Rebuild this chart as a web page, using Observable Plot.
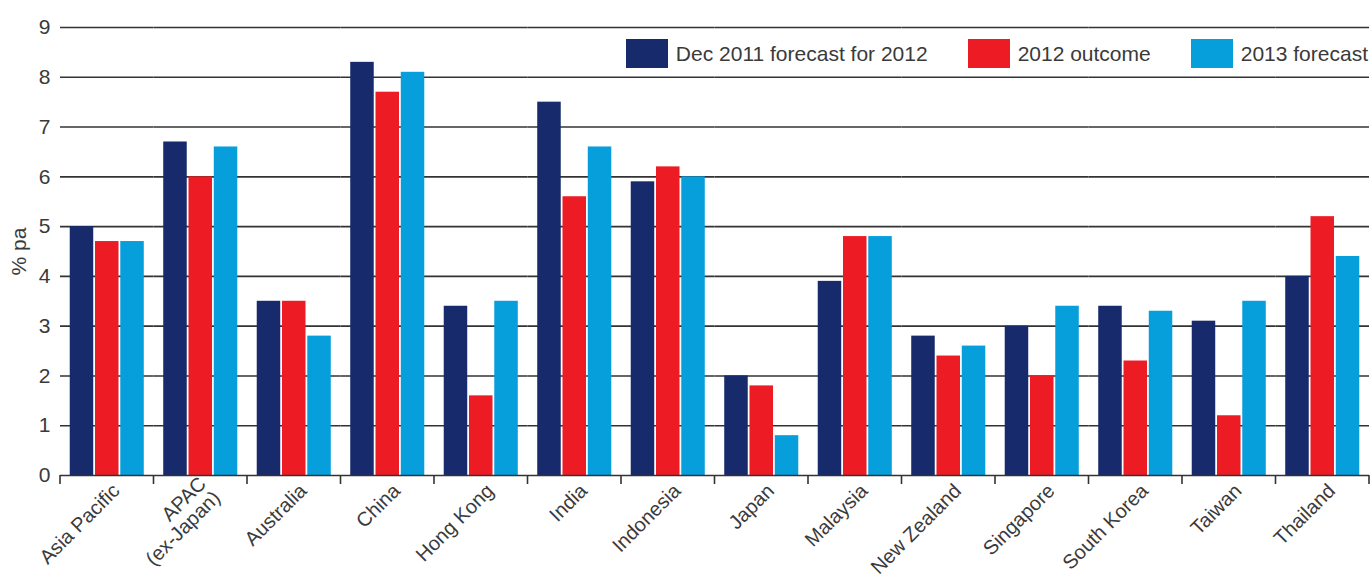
<!DOCTYPE html>
<html>
<head>
<meta charset="utf-8">
<script src="https://cdn.jsdelivr.net/npm/d3@7"></script>
<script src="https://cdn.jsdelivr.net/npm/@observablehq/plot@0.6"></script>
<style>
  html, body { margin: 0; padding: 0; background: #fff; }
  #wrap { position: relative; width: 1372px; height: 582px; font-family: "Liberation Sans", Arial, sans-serif; }
  #legend { position: absolute; top: 39px; right: 4px; display: flex; align-items: center; font-size: 21px; color: #3a3a3a; }
  #legend .item { display: flex; align-items: center; margin-left: 40px; }
  #legend .item:first-child { margin-left: 0; }
  #legend .sw { width: 42px; height: 29px; margin-right: 8px; }
</style>
</head>
<body>
<div id="wrap"><div id="legend"></div></div>
<script>
const countries = ["Asia Pacific", "APAC (ex-Japan)", "Australia", "China", "Hong Kong", "India", "Indonesia", "Japan", "Malaysia", "New Zealand", "Singapore", "South Korea", "Taiwan", "Thailand"];
const countryLabels = ["Asia Pacific", "APAC\n(ex-Japan)", "Australia", "China", "Hong Kong", "India", "Indonesia", "Japan", "Malaysia", "New Zealand", "Singapore", "South Korea", "Taiwan", "Thailand"];
const seriesNames = ["Dec 2011 forecast for 2012", "2012 outcome", "2013 forecast"];
const dec2011Forecast = [5.0, 6.7, 3.5, 8.3, 3.4, 7.5, 5.9, 2.0, 3.9, 2.8, 3.0, 3.4, 3.1, 4.0];
const outcome2012 = [4.7, 6.0, 3.5, 7.7, 1.6, 5.6, 6.2, 1.8, 4.8, 2.4, 2.0, 2.3, 1.2, 5.2];
const forecast2013 = [4.7, 6.6, 2.8, 8.1, 3.5, 6.6, 6.0, 0.8, 4.8, 2.6, 3.4, 3.3, 3.5, 4.4];
const seriesColors = ["#172a6b", "#ed1c24", "#069edb"];
const yTicks = [0, 1, 2, 3, 4, 5, 6, 7, 8, 9];

const seriesValues = [dec2011Forecast, outcome2012, forecast2013];
const data = countries.flatMap((c, i) => seriesNames.map((s, j) => ({country: c, series: s, value: seriesValues[j][i]})));
const labelOf = new Map(countries.map((c, i) => [c, countryLabels[i]]));

const chart = Plot.plot({
  width: 1372,
  height: 582,
  marginLeft: 60,
  marginRight: 3,
  marginTop: 27,
  marginBottom: 107,
  style: {fontFamily: "'Liberation Sans', Arial, sans-serif", fontSize: "20px", color: "#3a3a3a", background: "#fff"},
  fx: {domain: countries, padding: 0, round: false, label: null},
  x: {domain: seriesNames, paddingInner: 0.07, paddingOuter: 0.385, round: false, axis: null},
  y: {domain: [0, 9], label: "% pa"},
  color: {domain: seriesNames, range: seriesColors},
  marks: [
    Plot.ruleY(yTicks.filter(d => d > 0), {stroke: "#333", strokeWidth: 1.6}),
    Plot.barY(data, {fx: "country", x: "series", y: "value", fill: "series"}),
    Plot.ruleY([0], {stroke: "#333", strokeWidth: 1.6}),
    Plot.axisY(yTicks, {tickSize: 0, tickPadding: 10, fontSize: 21, tickFormat: d => String(d), label: "% pa", labelAnchor: "center", labelOffset: 49, labelArrow: "none", fill: "#3a3a3a"}),
    Plot.axisFx({anchor: "bottom", tickSize: 0, tickPadding: 12, tickRotate: -45, fontSize: 20, dx: 9, tickFormat: d => labelOf.get(d), label: null, fill: "#3a3a3a"})
  ]
});

document.getElementById("wrap").prepend(chart);

// boundary ticks between categories, placed with the fx and y scales
const fx = chart.scale("fx");
const ys = chart.scale("y");
const y0 = ys.apply(0);
const edges = countries.map(c => fx.apply(c)).concat([fx.apply(countries[countries.length - 1]) + fx.bandwidth]);
d3.select(chart).append("g")
  .attr("stroke", "#333").attr("stroke-width", 1.6)
  .selectAll("line").data(edges).join("line")
  .attr("x1", d => d).attr("x2", d => d)
  .attr("y1", y0).attr("y2", y0 + 9);

// legend
const legend = d3.select("#legend");
seriesNames.forEach((s, i) => {
  const item = legend.append("div").attr("class", "item");
  item.append("div").attr("class", "sw").style("background", seriesColors[i]);
  item.append("span").text(s);
});
</script>
</body>
</html>
